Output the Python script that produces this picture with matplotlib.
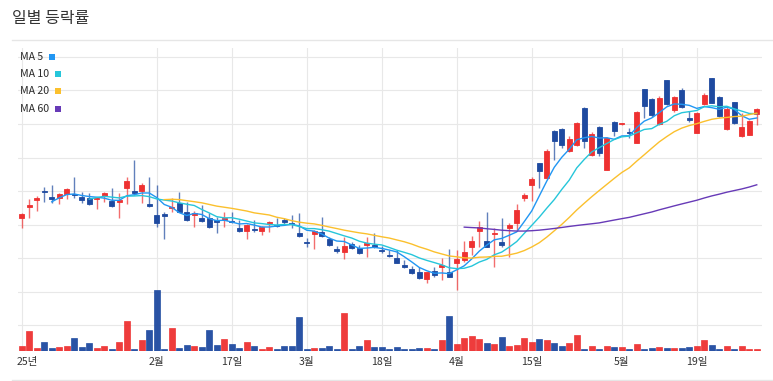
import numpy as np
import pandas as pd
import matplotlib.pyplot as plt
import matplotlib.transforms as mtransforms
from matplotlib.lines import Line2D
from matplotlib.patches import Rectangle

plt.rcParams['font.family'] = ['Noto Sans CJK KR', 'DejaVu Sans']

# daily OHLC (price, won) and volume (thousand shares)
opens = [11190, 11530, 11730, 12000, 11800, 11790, 11920, 11920, 11810, 11800,
         11750, 11850, 11710, 11690, 12100, 12000, 12010, 11620, 11290, 11290,
         11500, 11660, 11390, 11300, 11210, 11210, 11130, 11140, 11110, 10910,
         10820, 10870, 10810, 11040, 10980, 11120, 11040, 10760, 10490, 10720,
         10780, 10580, 10270, 10200, 10440, 10300, 10410, 10410, 10250, 10100,
         10000, 9810, 9670, 9580, 9370, 9620, 9730, 9580, 9850, 9950,
         10350, 10820, 10500, 10710, 10480, 10890, 11060, 11790, 12180, 12830,
         12380, 13800, 13840, 13200, 13370, 14480, 13070, 13920, 12630, 14070,
         13990, 13750, 13440, 15030, 14740, 13990, 15310, 14410, 15010, 14170,
         13740, 14580, 15360, 14810, 13840, 14640, 13640, 13670, 14290]
highs = [11340, 11760, 11850, 12130, 12180, 11950, 12100, 12430, 11980, 11930,
         11830, 11960, 12080, 11930, 12430, 12930, 12250, 12430, 12180, 11370,
         11790, 11980, 11690, 11420, 11590, 11340, 11240, 11370, 11390, 11140,
         11020, 11140, 10960, 11120, 11190, 11190, 11290, 11340, 10590, 10840,
         11240, 10640, 10370, 10640, 10480, 10400, 10620, 10760, 10370, 10250,
         10250, 9950, 9770, 9750, 9600, 9750, 10000, 10280, 10250, 10500,
         10660, 11110, 11370, 10890, 11210, 11040, 11610, 11950, 12410, 12850,
         13250, 13820, 13870, 13640, 14070, 14490, 13770, 13940, 13620, 14100,
         14020, 13870, 14390, 15040, 14760, 14830, 15310, 14830, 15060, 14380,
         14360, 14930, 15360, 14830, 14510, 14660, 14310, 14120, 14460]
lows = [10890, 11210, 11410, 11670, 11640, 11610, 11750, 11800, 11640, 11580,
        11460, 11680, 11520, 11190, 11610, 11880, 11640, 11520, 10940, 10560,
        11390, 11370, 11120, 10920, 11090, 10890, 10740, 10920, 11040, 10790,
        10580, 10790, 10680, 10770, 10940, 10990, 10890, 10620, 10330, 10270,
        10640, 10380, 10150, 9970, 10290, 10130, 10030, 10300, 10150, 10050,
        9850, 9700, 9530, 9370, 9260, 9450, 9350, 9430, 9060, 9900,
        10100, 10350, 10330, 9750, 10350, 10050, 10840, 11710, 11710, 12080,
        12360, 12930, 13270, 13170, 13340, 13270, 13050, 13040, 12630, 13650,
        13980, 13570, 13440, 14170, 14220, 13970, 14560, 14360, 14460, 14070,
        13720, 14560, 14610, 14200, 13820, 14000, 13620, 13670, 13970]
closes = [11310, 11580, 11790, 11960, 11770, 11900, 12070, 11870, 11740, 11610,
          11800, 11930, 11560, 11720, 12300, 11950, 12190, 11560, 11040, 11270,
          11530, 11390, 11140, 11350, 11110, 10920, 11080, 11210, 11080, 10820,
          10990, 10840, 10930, 11080, 10960, 11090, 11020, 10660, 10450, 10820,
          10670, 10400, 10230, 10380, 10310, 10150, 10460, 10330, 10220, 10070,
          9870, 9750, 9550, 9400, 9580, 9500, 9790, 9450, 9970, 10180,
          10520, 10940, 10350, 10760, 10390, 10990, 11440, 11880, 12350, 12610,
          13200, 13500, 13370, 13550, 14020, 13500, 13690, 13140, 13590, 13790,
          14000, 13720, 14360, 14540, 14270, 14780, 14590, 14790, 14490, 14110,
          14330, 14860, 14630, 14240, 14430, 14020, 13900, 14100, 14430]
volumes = [50, 200, 30, 90, 30, 43, 50, 130, 37, 80,
           30, 50, 23, 93, 300, 23, 110, 207, 607, 17,
           230, 30, 60, 53, 37, 213, 60, 123, 73, 30,
           93, 53, 20, 37, 23, 53, 53, 340, 23, 30,
           30, 53, 23, 383, 20, 47, 113, 37, 37, 20,
           37, 23, 17, 30, 30, 23, 107, 350, 73, 130,
           150, 120, 83, 70, 137, 47, 63, 130, 93, 120,
           107, 83, 53, 80, 160, 23, 53, 23, 47, 40,
           40, 20, 67, 23, 30, 37, 30, 30, 30, 40,
           50, 113, 63, 23, 50, 23, 50, 23, 23]

tick_pos = [0, 18, 28, 38, 48, 58, 68, 80, 90]
tick_labels = ['25년', '2월', '17일', '3월', '18일', '4월', '15일', '5월', '19일']

ma_periods = [5, 10, 20, 60]
ma_colors = ['#2196F3', '#26C6DA', '#FBC02D', '#673AB7']

UP = '#EE3131'
DOWN = '#1E4AA0'

o = np.array(opens)
h = np.array(highs)
l = np.array(lows)
c = np.array(closes)
x = np.arange(len(c))
up = c >= o
cols = np.where(up, UP, DOWN)

W, H = 773, 381
fig = plt.figure(figsize=(W / 100, H / 100), dpi=100)
ax = fig.add_axes([18 / W, 30 / H, 744 / W, 303 / H])

# candles
ax.vlines(x, l, h, colors=cols, linewidth=1, alpha=0.7, zorder=2)
body_bottom = np.minimum(o, c)
body_h = np.maximum(np.abs(c - o), 40)
ax.bar(x, body_h, bottom=body_bottom, width=0.66, color=cols,
       edgecolor=cols, linewidth=0.6, zorder=3)

# moving averages
s = pd.Series(c)
for p, col in zip(ma_periods, ma_colors):
    ax.plot(x, s.rolling(p).mean(), color=col, linewidth=1, zorder=4)

ax.set_xlim(-0.5, 98.7)
ax.set_ylim(7241, 16259)
ax.set_yticks(np.arange(8000, 16001, 1000))
ax.set_xticks(tick_pos)
ax.set_xticklabels(tick_labels, fontsize=7.6, color='#333333', fontweight='medium')
ax.tick_params(axis='x', length=0, pad=4)
ax.tick_params(axis='y', length=0, labelleft=False)
ax.grid(True, color='#E8E8E8', linewidth=0.8, zorder=0)
ax.set_axisbelow(True)
for sp in ax.spines.values():
    sp.set_visible(False)

# nudge first label like the original
lbl0 = ax.get_xticklabels()[0]
lbl0.set_transform(lbl0.get_transform() +
                   mtransforms.ScaledTranslation(6 / 100, 0, fig.dpi_scale_trans))

# volume overlay
ax2 = ax.twinx()
ax2.bar(x, volumes, width=0.86, color=cols, edgecolor=cols, linewidth=0.5, alpha=0.95)
ax2.set_ylim(0, 3030)
ax2.set_yticks([])
for sp in ax2.spines.values():
    sp.set_visible(False)

# title and separators
fig.text(12 / W, 1 - 18 / H, '일별 등락률', fontsize=11.5, color='#333333', va='center')
fig.add_artist(Line2D([12 / W, 1], [1 - 40 / H, 1 - 40 / H], color='#E6E6E6', linewidth=1))
fig.add_artist(Line2D([12 / W, 1], [1 - 380 / H, 1 - 380 / H], color='#E6E6E6', linewidth=1))

# legend
leg_y = [57.3, 74.3, 91, 109.3]
sq_x = [49, 55, 55, 55]
for p, col, yy, sx in zip(ma_periods, ma_colors, leg_y, sq_x):
    fig.text(20 / W, 1 - yy / H, f'MA {p}', fontsize=7.6, color='#2a2a2a', va='center')
    fig.add_artist(Rectangle((sx / W, 1 - (yy + 3) / H), 6 / W, 6 / H,
                             facecolor=col, edgecolor='none', transform=fig.transFigure))

fig.savefig('out.png', dpi=100)
